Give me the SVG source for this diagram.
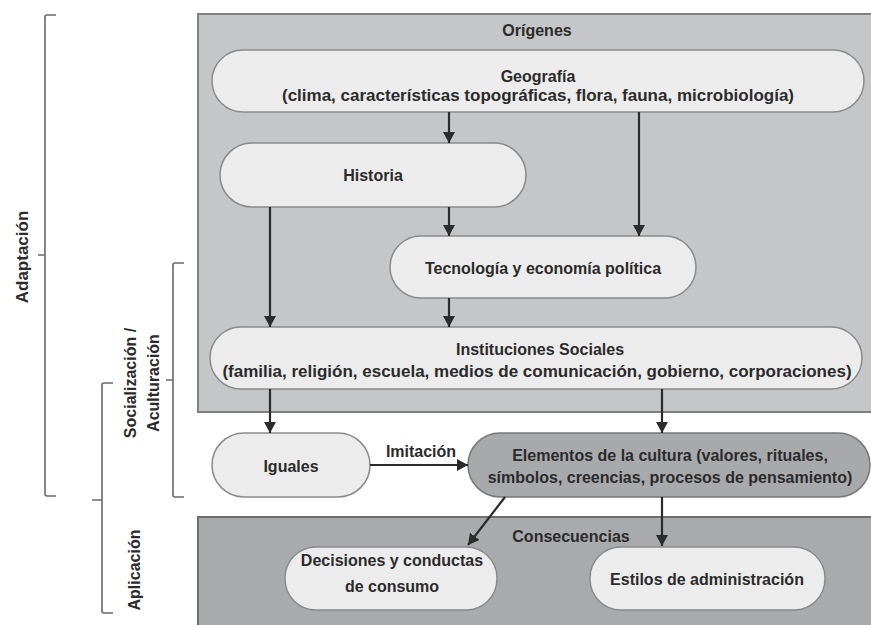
<svg xmlns="http://www.w3.org/2000/svg" width="871" height="625" viewBox="0 0 871 625">
<defs>
<style>
.t{font-family:"Liberation Sans",Arial,sans-serif;font-weight:bold;font-size:16px;fill:#2b2b2b;text-anchor:middle}
.lab{font-family:"Liberation Sans",Arial,sans-serif;font-weight:bold;font-size:16px;fill:#2b2b2b;text-anchor:middle}
.big{font-size:17px}
.node{fill:#ececec;stroke:#8a8a8a;stroke-width:1.5}
.dark{fill:#a8a9ab;stroke:#777;stroke-width:1.5}
.panel{fill:#c5c6c8;stroke:#808080;stroke-width:2}
.panel2{fill:#a9aaac;stroke:#6e6e6e;stroke-width:2}
.br{fill:none;stroke:#6a6a6a;stroke-width:1.6}
.c{fill:none;stroke:#2b2b2b;stroke-width:2.2;marker-end:url(#ah)}
</style>
<marker id="ah" markerUnits="userSpaceOnUse" markerWidth="12" markerHeight="12" refX="11" refY="6" orient="auto">
<path d="M0,0 L11,6 L0,12 z" fill="#2b2b2b"/>
</marker>
</defs>
<rect width="871" height="625" fill="#ffffff"/>

<g id="brackets">
<path class="br" d="M56,15 H47 Q45,15 45,17 V494 Q45,496 47,496 H56 M45,255 H38"/>
<path class="br" d="M184,263 H175 Q173,263 173,265 V495 Q173,497 175,497 H184 M173,380 H166"/>
<path class="br" d="M113,383 H104 Q102,383 102,385 V611 Q102,613 104,613 H113 M102,500 H92"/>
<text class="lab big" transform="translate(28,257) rotate(-90)">Adaptación</text>
<text class="lab" transform="translate(136,383) rotate(-90)">Socialización /</text>
<text class="lab" transform="translate(159,383) rotate(-90)">Aculturación</text>
<text class="lab" transform="translate(140,570) rotate(-90)">Aplicación</text>
</g>

<g id="origenes">
<rect class="panel" x="198" y="14" width="690" height="398"/>
<text class="t" x="537" y="36">Orígenes</text>
</g>
<g id="consecuencias">
<rect class="panel2" x="198" y="517" width="690" height="120"/>
<text class="t" x="571" y="542">Consecuencias</text>
</g>

<g id="geografia">
<rect class="node" x="212" y="50" width="652" height="62" rx="31"/>
<text class="t" x="538" y="82">Geografía</text>
<text class="t big" x="538" y="101">(clima, características topográficas, flora, fauna, microbiología)</text>
</g>
<g id="historia">
<rect class="node" x="220" y="143" width="306" height="64" rx="32"/>
<text class="t" x="373" y="181">Historia</text>
</g>
<g id="tecnologia">
<rect class="node" x="390" y="236" width="306" height="62" rx="31"/>
<text class="t" x="543" y="274">Tecnología y economía política</text>
</g>
<g id="instituciones">
<rect class="node" x="210" y="327" width="652" height="62" rx="31"/>
<text class="t" x="540" y="355">Instituciones Sociales</text>
<text class="t big" x="537" y="377">(familia, religión, escuela, medios de comunicación, gobierno, corporaciones)</text>
</g>
<g id="iguales">
<rect class="node" x="212" y="433" width="158" height="64" rx="32"/>
<text class="t" x="291" y="472">Iguales</text>
</g>
<g id="elementos">
<rect class="dark" x="468" y="433" width="402" height="64" rx="32"/>
<text class="t" x="670" y="461">Elementos de la cultura (valores, rituales,</text>
<text class="t" x="670" y="483">símbolos, creencias, procesos de pensamiento)</text>
</g>
<g id="decisiones">
<rect class="node" x="285" y="547" width="212" height="63" rx="31"/>
<text class="t" x="392" y="566">Decisiones y conductas</text>
<text class="t" x="392" y="592">de consumo</text>
</g>
<g id="estilos">
<rect class="node" x="590" y="547" width="235" height="63" rx="31"/>
<text class="t" x="707" y="585">Estilos de administración</text>
</g>

<g id="connectors">
<path class="c" d="M449,112 V143"/>
<path class="c" d="M639,112 V236"/>
<path class="c" d="M449,207 V236"/>
<path class="c" d="M270,207 V327"/>
<path class="c" d="M449,298 V327"/>
<path class="c" d="M270,389 V433"/>
<path class="c" d="M662,389 V433"/>
<path class="c" d="M370,465 H468"/>
<path class="c" d="M505,497 L468,545"/>
<path class="c" d="M662,497 V546"/>
<text class="t" x="421" y="457">Imitación</text>
</g>
</svg>
